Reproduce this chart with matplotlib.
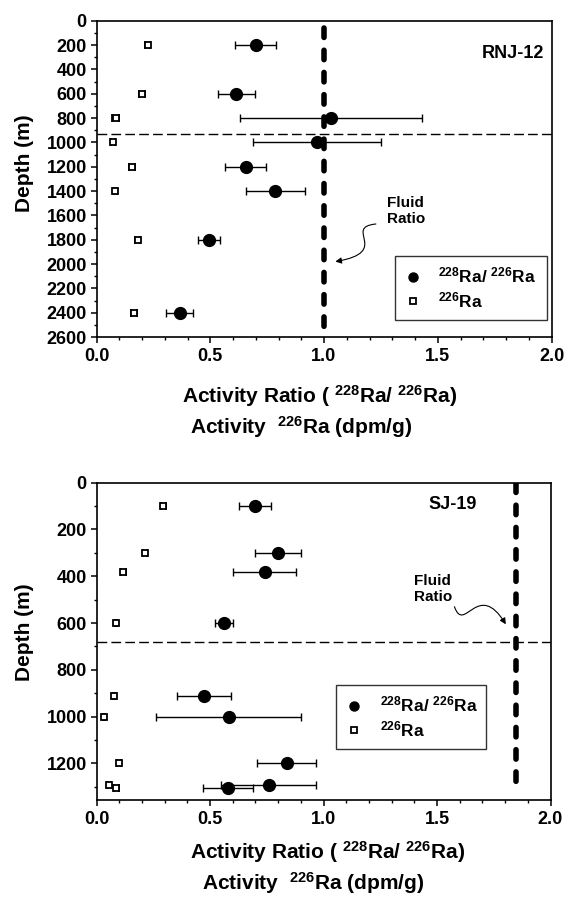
import matplotlib
matplotlib.use("Agg")
import matplotlib.pyplot as plt
from matplotlib.lines import Line2D
from matplotlib.patches import FancyArrowPatch
from matplotlib.path import Path
from matplotlib.ticker import MultipleLocator, FormatStrFormatter

plt.rcParams['font.family'] = ['Liberation Sans', 'DejaVu Sans']
plt.rcParams['font.weight'] = 'bold'
plt.rcParams['mathtext.fontset'] = 'custom'
plt.rcParams['mathtext.bf'] = 'Liberation Sans:bold'
plt.rcParams['mathtext.rm'] = 'Liberation Sans:bold'
plt.rcParams['mathtext.default'] = 'bf'

# RNJ-12 well
rnj_depth = [200, 600, 800, 1000, 1200, 1400, 1800, 2400]
rnj_ratio = [0.70, 0.615, 1.03, 0.97, 0.655, 0.785, 0.495, 0.365]
rnj_ratio_err = [0.09, 0.08, 0.40, 0.28, 0.09, 0.13, 0.05, 0.06]
rnj_ra226 = [0.225, 0.20, 0.084, 0.072, 0.156, 0.083, 0.181, 0.165]
rnj_ra226_err = [0.012, 0.012, 0.015, 0.008, 0.012, 0.008, 0.010, 0.012]
rnj_fluid = 1.0
rnj_fluid_depth = [60, 2600]
rnj_contact = 934

# SJ-19 well
sj_depth = [100, 300, 381, 600, 913, 1000, 1200, 1290, 1303]
sj_ratio = [0.698, 0.80, 0.741, 0.563, 0.473, 0.582, 0.839, 0.759, 0.578]
sj_ratio_err = [0.07, 0.10, 0.14, 0.04, 0.12, 0.32, 0.13, 0.21, 0.11]
sj_ra226 = [0.295, 0.215, 0.118, 0.086, 0.077, 0.033, 0.099, 0.056, 0.088]
sj_ra226_err = [0.013, 0.008, 0.010, 0.006, 0.006, 0.006, 0.008, 0.010, 0.010]
sj_fluid = 1.85
sj_fluid_depth = [0, 1329]
sj_contact = 681

xlab1 = r"Activity Ratio ( $^{228}$Ra/ $^{226}$Ra)"
xlab2 = r"Activity  $^{226}$Ra (dpm/g)"


def panel(ax, depth, ratio, rerr, ra, raerr, fluid, fdepth, contact, ymax, name, name_xy,
          fluid_xy, arrow_pts, leg_box):
    ax.plot([fluid, fluid], fdepth, color='black', lw=4.0, dashes=(1.7, 2.3),
            dash_capstyle='round', zorder=2)
    ax.axhline(contact, color='black', lw=1.0, dashes=(7, 3), zorder=1)
    ax.errorbar(ratio, depth, xerr=rerr, fmt='o', color='black', ms=8.5,
                elinewidth=1.0, capsize=2.6, capthick=1.0, zorder=4)
    ax.errorbar(ra, depth, xerr=raerr, fmt='s', mfc='white', mec='black', mew=1.3,
                ms=4.6, ecolor='black', elinewidth=1.0, capsize=2.6, capthick=1.0, zorder=4)

    ax.set_xlim(0, 2.0)
    ax.set_ylim(ymax, 0)
    ax.xaxis.set_major_locator(MultipleLocator(0.5))
    ax.xaxis.set_minor_locator(MultipleLocator(0.1))
    ax.xaxis.set_major_formatter(FormatStrFormatter('%.1f'))
    ax.yaxis.set_major_locator(MultipleLocator(200))
    ax.yaxis.set_minor_locator(MultipleLocator(100))
    ax.tick_params(which='major', direction='out', length=4, width=1.1, labelsize=13, pad=3)
    ax.tick_params(which='minor', direction='out', length=2.5, width=1.0)
    ax.tick_params(axis='x', which='major', pad=4)
    for s in ax.spines.values():
        s.set_linewidth(1.2)

    ax.text(name_xy[0], name_xy[1], name, ha='right', va='center', fontsize=13, fontweight='bold')
    ax.text(fluid_xy[0], fluid_xy[1], "Fluid\nRatio", ha='left', va='center', fontsize=11,
            fontweight='bold', linespacing=1.2)
    p = Path(arrow_pts, [Path.MOVETO, Path.CURVE4, Path.CURVE4, Path.CURVE4])
    ax.add_patch(FancyArrowPatch(path=p, arrowstyle='-|>,head_length=3.5,head_width=1.8',
                                 color='black', lw=0.8, zorder=3))

    handles = [Line2D([], [], marker='o', ls='none', color='black', ms=6.5),
               Line2D([], [], marker='s', ls='none', mfc='white', mec='black', mew=1.3, ms=4.3)]
    leg = ax.legend(handles, [r"$^{228}$Ra/ $^{226}$Ra", r"$^{226}$Ra"], loc='center',
                    bbox_to_anchor=leg_box, mode='expand', fontsize=12.5, frameon=True,
                    fancybox=False, edgecolor='black', borderpad=0.55, labelspacing=0.25,
                    handlelength=1.0, handletextpad=0.95, borderaxespad=0)
    leg.get_frame().set_linewidth(1.0)


fig = plt.figure(figsize=(5.67, 8.97), dpi=100)

ax1 = fig.add_axes([96.5 / 567, 1 - 337 / 897, 455 / 567, 316.3 / 897])
panel(ax1, rnj_depth, rnj_ratio, rnj_ratio_err, rnj_ra226, rnj_ra226_err, rnj_fluid,
      rnj_fluid_depth, rnj_contact, 2600, "RNJ-12", (1.966, 268), (1.279, 1563),
      [(1.228, 1671), (1.08, 1700), (1.30, 1900), (1.05, 1980)],
      (0.656, 0.054, 0.334, 0.202))

ax2 = fig.add_axes([96.5 / 567, 1 - 800 / 897, 454 / 567, 317.3 / 897])
panel(ax2, sj_depth, sj_ratio, sj_ratio_err, sj_ra226, sj_ra226_err, sj_fluid,
      sj_fluid_depth, sj_contact, 1356, "SJ-19", (1.677, 95), (1.40, 454),
      [(1.577, 530), (1.62, 650), (1.68, 410), (1.803, 605)],
      (0.528, 0.161, 0.331, 0.201))

fig.text(24 / 567, 1 - 163 / 897, "Depth (m)", rotation=90, ha='center', va='center',
         fontsize=15, fontweight='bold')
fig.text(25 / 567, 1 - 632 / 897, "Depth (m)", rotation=90, ha='center', va='center',
         fontsize=15, fontweight='bold')

fig.text(182 / 567, 1 - 403 / 897, xlab1, ha='left', va='baseline', fontsize=15, fontweight='bold')
fig.text(190 / 567, 1 - 434 / 897, xlab2, ha='left', va='baseline', fontsize=15, fontweight='bold')
fig.text(190 / 567, 1 - 859 / 897, xlab1, ha='left', va='baseline', fontsize=15, fontweight='bold')
fig.text(202 / 567, 1 - 890 / 897, xlab2, ha='left', va='baseline', fontsize=15, fontweight='bold')

fig.savefig("out.png", dpi=100)
